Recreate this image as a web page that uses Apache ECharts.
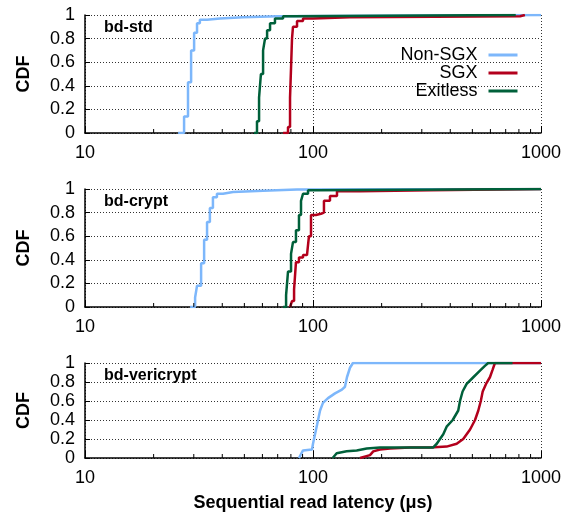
<!DOCTYPE html>
<html>
<head>
<meta charset="utf-8">
<script src="https://cdn.jsdelivr.net/npm/echarts@6/dist/echarts.min.js"></script>
<style>
  html, body { margin: 0; padding: 0; background: #fff; }
  #main { width: 566px; height: 516px; }
</style>
</head>
<body>
<div id="main"></div>
<script>
// 图例名称与颜色
const seriesNames = ['Non-SGX', 'SGX', 'Exitless'];
const seriesColors = ['#7DB7FB', '#B3001C', '#00603A'];
const panelNames = ['bd-std', 'bd-crypt', 'bd-vericrypt'];
// 对数轴次刻度 (2..9 per decade)
const minorTickValues = [20, 30, 40, 50, 60, 70, 80, 90, 200, 300, 400, 500, 600, 700, 800, 900];

// bd-std: [latency (us), CDF]
const stdNonSgx = [[25.6, 0], [27.2, 0.14], [28.3, 0.43], [29.2, 0.70], [30.1, 0.85], [31.0, 0.93], [31.9, 0.96], [34.3, 0.97], [39.1, 0.98], [49.3, 0.99], [69.5, 1], [1000, 1]];
const stdSgx = [[73.9, 0], [77.7, 0.05], [79.3, 0.3], [80.1, 0.55], [80.9, 0.8], [81.7, 0.9], [85.1, 0.95], [90.4, 0.97], [100, 0.98], [145, 0.99], [810, 1], [850, 1]];
const stdExitless = [[55.1, 0], [56.8, 0.1], [58.0, 0.3], [59.1, 0.5], [60.4, 0.7], [61.6, 0.8], [62.9, 0.87], [64.8, 0.93], [68.1, 0.97], [73.9, 0.99], [81.7, 1], [775, 1]];

// bd-crypt
const cryptNonSgx = [[28.9, 0], [30.4, 0.08], [31.0, 0.18], [32.3, 0.37], [33.3, 0.57], [34.3, 0.72], [35.3, 0.84], [36.4, 0.93], [37.9, 0.96], [40.3, 0.975], [44.6, 0.985], [60.4, 0.995], [85.1, 1], [1000, 1]];
const cryptSgx = [[79.3, 0], [80.9, 0.05], [82.6, 0.15], [84.2, 0.38], [86.8, 0.42], [90.4, 0.44], [94.1, 0.45], [96.0, 0.6], [98.0, 0.78], [103, 0.79], [108.4, 0.8], [111.7, 0.9], [118.7, 0.94], [127.4, 0.98], [160.7, 0.99], [326, 1], [1000, 1]];
const cryptExitless = [[73.9, 0], [76.2, 0.1], [77.7, 0.3], [80.1, 0.45], [81.7, 0.55], [84.2, 0.65], [86.8, 0.78], [88.6, 0.9], [90.4, 0.96], [95.1, 0.99], [104, 1], [1000, 1]];

// bd-vericrypt
const vcNonSgx = [[86.8, 0], [90.4, 0.08], [99.0, 0.09], [100, 0.15], [104.2, 0.35], [107.4, 0.5], [110.6, 0.58], [116.4, 0.63], [124.9, 0.68], [133.9, 0.72], [138.1, 0.75], [140.9, 0.85], [145.3, 0.95], [149.7, 1], [1000, 1]];
const vcSgx = [[160.8, 0], [177.8, 0.03], [183.8, 0.07], [196.8, 0.09], [217.6, 0.1], [266.3, 0.11], [326, 0.11], [385.6, 0.12], [426.8, 0.15], [456, 0.2], [488.5, 0.3], [513.6, 0.4], [531, 0.5], [544.5, 0.6], [555, 0.7], [574, 0.78], [597, 0.85], [613.6, 0.93], [628, 1], [1000, 1]];
const vcExitless = [[122, 0], [127, 0.05], [140.5, 0.07], [155.5, 0.08], [172.1, 0.1], [196.8, 0.11], [336, 0.11], [349, 0.15], [360.6, 0.2], [372.7, 0.25], [385.6, 0.33], [410, 0.4], [433.6, 0.5], [441.3, 0.6], [453, 0.7], [472, 0.78], [504.7, 0.85], [540, 0.92], [567.5, 0.97], [586.6, 1], [750, 1]];

const panelData = [
  [stdNonSgx, stdSgx, stdExitless],
  [cryptNonSgx, cryptSgx, cryptExitless],
  [vcNonSgx, vcSgx, vcExitless]
];

const font = 'Liberation Sans, Arial, Helvetica, sans-serif';
const grids = [
  { left: 85, right: 25, top: 15, height: 118 },
  { left: 85, right: 25, top: 189, height: 118 },
  { left: 85, right: 25, top: 363, height: 95 }
];
const dotted = { color: '#333', width: 1, type: [1, 2] };

const xAxes = grids.map((g, i) => ({
  type: 'log',
  logBase: 10,
  gridIndex: i,
  min: 10,
  max: 1000,
  axisLine: { lineStyle: { color: '#000', width: 1.5 } },
  axisTick: { inside: true, length: 7, lineStyle: { color: '#000' } },
  axisLabel: { fontSize: 18, color: '#000', fontFamily: font, margin: 11, formatter: v => String(Math.round(v)) },
  splitLine: { show: true, lineStyle: dotted },
  name: i === 2 ? 'Sequential read latency (\u03bcs)' : '',
  nameLocation: 'middle',
  nameGap: 36,
  nameTextStyle: { fontSize: 18, fontWeight: 'bold', color: '#000', fontFamily: font }
}));

const yAxes = grids.map((g, i) => ({
  type: 'value',
  gridIndex: i,
  min: 0,
  max: 1,
  interval: 0.2,
  axisLine: { show: true, lineStyle: { color: '#000', width: 1.5 } },
  axisTick: { show: true, inside: true, length: 5, lineStyle: { color: '#000' } },
  axisLabel: { fontSize: 18, color: '#000', fontFamily: font, margin: 10 },
  splitLine: { show: true, lineStyle: dotted },
  name: 'CDF',
  nameLocation: 'middle',
  nameRotate: 90,
  nameGap: 52,
  nameTextStyle: { fontSize: 18, fontWeight: 'bold', color: '#000', fontFamily: font }
}));

const series = [];
panelData.forEach((lines, p) => {
  lines.forEach((d, k) => {
    series.push({
      name: seriesNames[k],
      type: 'line',
      xAxisIndex: p,
      yAxisIndex: p,
      data: d,
      step: p < 2 ? 'end' : false,
      symbol: 'none',
      color: seriesColors[k],
      lineStyle: { width: 2.5, color: seriesColors[k] },
      animation: false,
      z: 3 + k
    });
  });
  // 次刻度
  series.push({
    type: 'custom',
    xAxisIndex: p,
    yAxisIndex: p,
    silent: true,
    animation: false,
    data: minorTickValues.map(v => [v, 0]),
    renderItem: (params, api) => {
      const pt = api.coord([api.value(0), api.value(1)]);
      return {
        type: 'line',
        shape: { x1: pt[0], y1: pt[1], x2: pt[0], y2: pt[1] - 4 },
        style: { stroke: '#000', lineWidth: 1 }
      };
    },
    z: 10
  });
});

const chart = echarts.init(document.getElementById('main'));
chart.setOption({
  animation: false,
  backgroundColor: '#fff',
  title: panelNames.map((t, i) => ({
    text: t,
    left: 104,
    top: grids[i].top + 5,
    padding: 0,
    textStyle: { fontSize: 16, fontWeight: 'bold', color: '#000', fontFamily: font }
  })),
  legend: {
    data: seriesNames,
    orient: 'vertical',
    align: 'right',
    right: 47,
    top: 46,
    padding: 0,
    itemGap: 0,
    itemWidth: 29,
    itemHeight: 14,
    itemStyle: { opacity: 0 },
    lineStyle: { width: 3 },
    textStyle: { fontSize: 18, color: '#000', fontFamily: font, padding: [0, 6, 0, 0], lineHeight: 18 }
  },
  grid: grids,
  xAxis: xAxes,
  yAxis: yAxes,
  series: series
});
</script>
</body>
</html>
